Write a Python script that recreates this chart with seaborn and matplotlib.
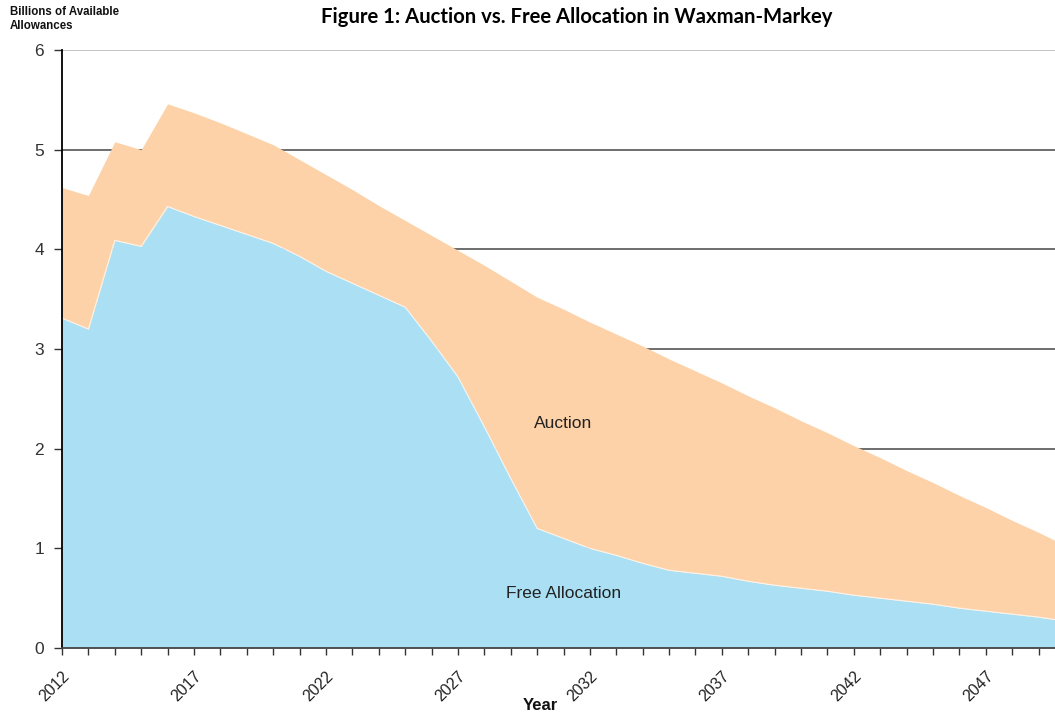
import numpy as np
import pandas as pd
import matplotlib
matplotlib.use("Agg")
import matplotlib.pyplot as plt
import seaborn as sns

# Allowance allocation under Waxman-Markey, billions of allowances per year
years = list(range(2012, 2051))

free_allocation = [
    3.31, 3.20, 4.09, 4.03, 4.43, 4.33, 4.24, 4.15, 4.06, 3.93,
    3.78, 3.66, 3.54, 3.42, 3.08, 2.72, 2.22, 1.70, 1.20, 1.10,
    1.00, 0.93, 0.85, 0.78, 0.75, 0.72, 0.67, 0.63, 0.60, 0.57,
    0.53, 0.50, 0.47, 0.44, 0.40, 0.37, 0.34, 0.31, 0.27,
]

total_allowances = [
    4.62, 4.54, 5.08, 5.00, 5.46, 5.37, 5.27, 5.16, 5.05, 4.90,
    4.75, 4.60, 4.44, 4.29, 4.14, 3.99, 3.84, 3.68, 3.52, 3.40,
    3.27, 3.15, 3.03, 2.90, 2.78, 2.66, 2.53, 2.41, 2.28, 2.16,
    2.03, 1.91, 1.78, 1.66, 1.53, 1.41, 1.28, 1.16, 1.03,
]

auction = [round(t - f, 3) for t, f in zip(total_allowances, free_allocation)]

y_ticks = [0, 1, 2, 3, 4, 5, 6]
x_label_years = [2012, 2017, 2022, 2027, 2032, 2037, 2042, 2047]

df = pd.DataFrame({
    "Year": years,
    "Free Allocation": free_allocation,
    "Auction": auction,
})
df["Total"] = df["Free Allocation"] + df["Auction"]

sns.set_style("white")
plt.rcParams["font.family"] = ["Liberation Sans", "DejaVu Sans"]

BLUE = "#abe0f4"
ORANGE = "#fdd2a8"

fig = plt.figure(figsize=(10.55, 7.17), dpi=100)
ax = fig.add_axes([62 / 1055, 1 - 648 / 717, (1065 - 62) / 1055, (648 - 50) / 717])

# horizontal reference lines sit behind the filled areas
for v in y_ticks[1:]:
    ax.axhline(v, color="#bbbbbb" if v == 6 else "#555555", lw=1.2, zorder=0)

ax.fill_between(df["Year"], 0, df["Free Allocation"], color=BLUE, lw=0, zorder=1)
ax.fill_between(df["Year"], df["Free Allocation"], df["Total"], color=ORANGE, lw=0, zorder=1)
sns.lineplot(data=df, x="Year", y="Free Allocation", color="white", lw=0.8,
             alpha=0.7, ax=ax, zorder=2)

ax.set_xlim(2012, 2050)
ax.set_ylim(0, 6)

ax.set_yticks(y_ticks)
ax.set_yticklabels([str(v) for v in y_ticks], fontsize=12.5, color="#333333")
ax.set_xticks(years, minor=True)
ax.set_xticks(x_label_years)
ax.set_xticklabels([str(y) for y in x_label_years], rotation=45, ha="right",
                   va="top", rotation_mode="anchor", fontsize=11.5, color="#222222")

ax.tick_params(axis="y", which="major", direction="out", length=6, width=1,
               color="#333333", left=True, pad=7)
ax.tick_params(axis="x", which="both", direction="out", length=5, width=1,
               color="#333333", bottom=True, pad=10)

for side in ("top", "right"):
    ax.spines[side].set_visible(False)
ax.spines["left"].set_color("#000000")
ax.spines["left"].set_linewidth(1.3)
ax.spines["bottom"].set_color("#444444")
ax.spines["bottom"].set_linewidth(1.3)
ax.spines["left"].set_zorder(3)
ax.spines["bottom"].set_zorder(3)

ax.set_xlabel("")
ax.set_ylabel("")

ax.text(2031.0, 2.25, "Auction", ha="center", va="center", fontsize=12.5,
        color="#222222", zorder=4)
ax.text(2031.0, 0.55, "Free Allocation", ha="center", va="center", fontsize=12.5,
        color="#222222", zorder=4)

fig.text(540 / 1055, 1 - 706 / 717, "Year", ha="center", va="center",
         fontsize=12, fontweight="bold", color="#111111")
fig.text(10 / 1055, 1 - 19 / 717, "Billions of Available\nAllowances", ha="left",
         va="center", fontsize=8.3, fontweight="bold", color="#111111",
         linespacing=1.15)
fig.text(577 / 1055, 1 - 17 / 717, "Figure 1: Auction vs. Free Allocation in Waxman-Markey",
         ha="center", va="center", fontsize=14.6, fontweight="bold",
         family=["Lato", "DejaVu Sans"], color="#000000")

fig.savefig("out.png", dpi=100)
